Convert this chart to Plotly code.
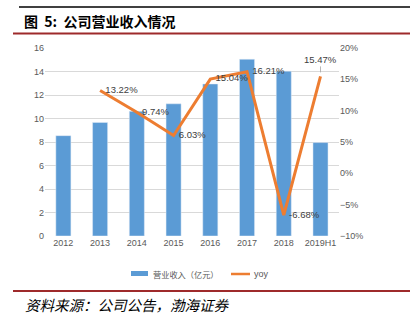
import plotly.graph_objects as go

categories = ["2012", "2013", "2014", "2015", "2016", "2017", "2018", "2019H1"]
revenue = [8.54, 9.67, 10.61, 11.25, 12.94, 15.04, 14.03, 7.95]
yoy_x = ["2013", "2014", "2015", "2016", "2017", "2018", "2019H1"]
yoy = [13.22, 9.74, 6.03, 15.04, 16.21, -6.68, 15.47]
rev_name = "营业收入（亿元）"
yoy_name = "yoy"

W, H = 416, 322
L, R, T, B = 45, 77, 48, 86
pw, ph = W - L - R, H - T - B

def px(x):
    return (x - L) / pw

def py(y):
    return (H - B - y) / ph

NB = "\u00a0\u00a0"
labels = [NB + f"{v:.2f}%" for v in yoy[:-1]] + [""]

BLUE, ORANGE, RED = "#5B9BD5", "#ED7D31", "#9E2A2B"

fig = go.Figure()
fig.add_trace(go.Bar(
    x=categories, y=revenue, name=rev_name,
    marker=dict(color=BLUE), width=0.41, yaxis="y",
))
fig.add_trace(go.Scatter(
    x=yoy_x, y=yoy, name=yoy_name, mode="lines+text", yaxis="y2",
    line=dict(color=ORANGE, width=3),
    text=labels, textposition="middle right",
    textfont=dict(size=9.5, color="#404040", family="Liberation Sans"),
    cliponaxis=False,
))

fig.update_layout(
    width=W, height=H,
    margin=dict(l=L, r=R, t=T, b=B),
    paper_bgcolor="white", plot_bgcolor="white",
    font=dict(family="Liberation Sans, Noto Sans CJK SC", size=9, color="#595959"),
    xaxis=dict(type="category", showgrid=False, showline=False, ticks="",
               tickfont=dict(size=9, color="#595959")),
    yaxis=dict(range=[0, 16], dtick=2, showgrid=True, gridcolor="#D9D9D9", gridwidth=1,
               zeroline=False, showline=False, ticks="", tickfont=dict(size=9, color="#595959")),
    yaxis2=dict(range=[-10, 20], dtick=5, overlaying="y", side="right", showgrid=False,
                zeroline=False, showline=False, ticks="", ticksuffix="%",
                tickfont=dict(size=9, color="#595959")),
    showlegend=False,
    shapes=[
        dict(type="line", xref="paper", yref="paper", x0=px(19), x1=px(410), y0=py(7), y1=py(7),
             line=dict(color="black", width=1.5)),
        dict(type="line", xref="paper", yref="paper", x0=px(13), x1=px(410), y0=py(33.5), y1=py(33.5),
             line=dict(color=RED, width=2)),
        dict(type="line", xref="paper", yref="paper", x0=px(13), x1=px(410), y0=py(291), y1=py(291),
             line=dict(color=RED, width=2)),
        # legend swatches
        dict(type="rect", xref="paper", yref="paper", x0=px(131), x1=px(148), y0=py(276), y1=py(271),
             fillcolor=BLUE, line=dict(width=0)),
        dict(type="line", xref="paper", yref="paper", x0=px(231), x1=px(250), y0=py(274), y1=py(274),
             line=dict(color=ORANGE, width=2.5)),
    ],
    annotations=[
        dict(text="<b>图  5:  公司营业收入情况</b>", xref="paper", yref="paper", x=px(22), y=py(21),
             xanchor="left", yanchor="middle", showarrow=False,
             font=dict(size=14, color="black", family="Noto Sans CJK SC")),
        dict(text="<i>资料来源：公司公告，渤海证券</i>", xref="paper", yref="paper", x=px(23), y=py(304),
             xanchor="left", yanchor="middle", showarrow=False,
             font=dict(size=14.5, color="black", family="Noto Sans CJK SC")),
        dict(text=rev_name, xref="paper", yref="paper", x=px(151), y=py(273.5),
             xanchor="left", yanchor="middle", showarrow=False,
             font=dict(size=8.2, color="#595959", family="Noto Sans CJK SC")),
        dict(text=yoy_name, xref="paper", yref="paper", x=px(252), y=py(274),
             xanchor="left", yanchor="middle", showarrow=False,
             font=dict(size=9, color="#595959", family="Liberation Sans")),
        # last data label with leader line
        dict(text=f"{yoy[-1]:.2f}%", x=yoy_x[-1], y=yoy[-1], xref="x", yref="y2",
             showarrow=True, arrowhead=0, arrowwidth=0.8, arrowcolor="#A6A6A6",
             ax=0, ay=-17, standoff=4,
             font=dict(size=9.5, color="#404040", family="Liberation Sans")),
    ],
)

fig.write_html("out.html")
